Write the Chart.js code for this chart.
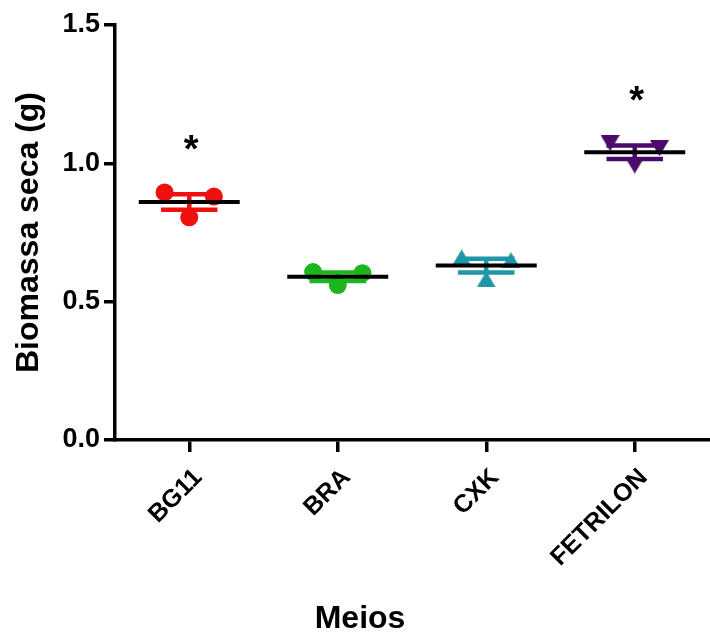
<!DOCTYPE html>
<html>
<head>
<meta charset="utf-8">
<script src="https://cdn.jsdelivr.net/npm/chart.js@4"></script>
<style>
  html, body { margin: 0; padding: 0; background: #fff; overflow: hidden; }
  #wrap { width: 718px; height: 637px; }
</style>
</head>
<body>
<div id="wrap"><canvas id="chart"></canvas></div>
<script>
// ================= DATA =================
const meios = ["BG11", "BRA", "CXK", "FETRILON"];
// three replicates per medium: left, centre, right
const bg11 = [0.895, 0.805, 0.880];
const bra = [0.607, 0.560, 0.603];
const cxk = [0.660, 0.581, 0.650];
const fetrilon = [1.073, 0.992, 1.055];
const signif = ["*", "", "", "*"];
const yTicks = [0.0, 0.5, 1.0, 1.5];

// ================= STYLE =================
const FONT = "'Liberation Sans', Arial, sans-serif";
const groups = [bg11, bra, cxk, fetrilon];
const colors = ["#f01010", "#1eb41e", "#2196a9", "#4b0a6c"];
const JITTER = [-0.166, 0, 0.166];
const MEAN_HALF = 0.34, CAP_HALF = 0.19, STAR_GAP = 0.18;

function triangle(color, down) {
  const c = document.createElement("canvas");
  const w = 19, h = 16;
  c.width = w; c.height = h;
  const g = c.getContext("2d");
  g.fillStyle = color;
  g.beginPath();
  if (down) { g.moveTo(0, 0); g.lineTo(w, 0); g.lineTo(w / 2, h); }
  else { g.moveTo(w / 2, 0); g.lineTo(w, h); g.lineTo(0, h); }
  g.closePath();
  g.fill();
  return c;
}
const shapes = ["circle", "circle", triangle(colors[2], false), triangle(colors[3], true)];

function mean(a) { return a.reduce((s, v) => s + v, 0) / a.length; }
function sem(a) {
  const m = mean(a);
  const sd = Math.sqrt(a.reduce((s, v) => s + (v - m) ** 2, 0) / (a.length - 1));
  return sd / Math.sqrt(a.length);
}

// ================= MEAN / SEM / STARS =================
const meanSemPlugin = {
  id: "meanSem",
  beforeDatasetsDraw(chart) {
    const { ctx, scales: { x, y } } = chart;
    ctx.save();
    ctx.lineWidth = 4.5;
    groups.forEach((vals, i) => {
      const m = mean(vals), e = sem(vals);
      ctx.strokeStyle = colors[i];
      ctx.beginPath();
      ctx.moveTo(x.getPixelForValue(i), y.getPixelForValue(m - e));
      ctx.lineTo(x.getPixelForValue(i), y.getPixelForValue(m + e));
      [m - e, m + e].forEach(v => {
        ctx.moveTo(x.getPixelForValue(i - CAP_HALF), y.getPixelForValue(v));
        ctx.lineTo(x.getPixelForValue(i + CAP_HALF), y.getPixelForValue(v));
      });
      ctx.stroke();
    });
    ctx.restore();
  },
  afterDatasetsDraw(chart) {
    const { ctx, scales: { x, y } } = chart;
    ctx.save();
    groups.forEach((vals, i) => {
      const m = mean(vals);
      ctx.strokeStyle = "#000";
      ctx.lineWidth = 4;
      ctx.beginPath();
      ctx.moveTo(x.getPixelForValue(i - MEAN_HALF), y.getPixelForValue(m));
      ctx.lineTo(x.getPixelForValue(i + MEAN_HALF), y.getPixelForValue(m));
      ctx.stroke();

      if (signif[i]) {
        ctx.font = "bold 38px " + FONT;
        ctx.fillStyle = "#000";
        ctx.textAlign = "center";
        ctx.textBaseline = "alphabetic";
        const mt = ctx.measureText(signif[i]);
        const cy = y.getPixelForValue(Math.max(...vals) + STAR_GAP);
        ctx.fillText(signif[i], x.getPixelForValue(i) + 2,
          cy + (mt.actualBoundingBoxAscent - mt.actualBoundingBoxDescent) / 2);
      }
    });

    // x axis title
    ctx.font = "bold 32px " + FONT;
    ctx.fillStyle = "#000";
    ctx.textAlign = "center";
    ctx.textBaseline = "middle";
    ctx.fillText("Meios", x.getPixelForValue(1.15), 619);
    ctx.restore();
  }
};

// ================= CHART =================
new Chart(document.getElementById("chart"), {
  type: "scatter",
  data: {
    datasets: groups.map((vals, i) => ({
      label: meios[i],
      data: vals.map((v, k) => ({ x: i + JITTER[k], y: v })),
      pointStyle: shapes[i],
      pointRadius: 9,
      backgroundColor: colors[i],
      borderColor: colors[i],
      borderWidth: 0
    }))
  },
  options: {
    responsive: true,
    maintainAspectRatio: false,
    animation: false,
    layout: { padding: { top: 25, right: 0, left: 0, bottom: 0 } },
    plugins: { legend: { display: false }, tooltip: { enabled: false } },
    scales: {
      x: {
        type: "linear",
        min: -0.5,
        max: 3.5,
        afterBuildTicks: s => { s.ticks = meios.map((_, i) => ({ value: i })); },
        afterFit: s => { s.height = 197; },
        ticks: {
          autoSkip: false,
          minRotation: 45,
          maxRotation: 45,
          padding: 11,
          labelOffset: 9,
          color: "#000",
          font: { family: FONT, size: 25, weight: "bold" },
          callback: v => meios[v]
        },
        grid: { drawOnChartArea: false, color: "#000", lineWidth: 3.5, tickLength: 12 },
        border: { color: "#000", width: 3.5 }
      },
      y: {
        min: 0,
        max: 1.5,
        afterBuildTicks: s => { s.ticks = yTicks.map(v => ({ value: v })); },
        afterFit: s => { s.width = 115; },
        ticks: {
          padding: 4,
          color: "#000",
          font: { family: FONT, size: 27, weight: "bold" },
          callback: v => v.toFixed(1)
        },
        grid: { drawOnChartArea: false, color: "#000", lineWidth: 3.5, tickLength: 11 },
        border: { color: "#000", width: 3.5 },
        title: {
          display: true,
          text: "Biomassa seca (g)",
          color: "#000",
          padding: { top: 10, bottom: 0 },
          font: { family: FONT, size: 32, weight: "bold" }
        }
      }
    }
  },
  plugins: [meanSemPlugin]
});
</script>
</body>
</html>
